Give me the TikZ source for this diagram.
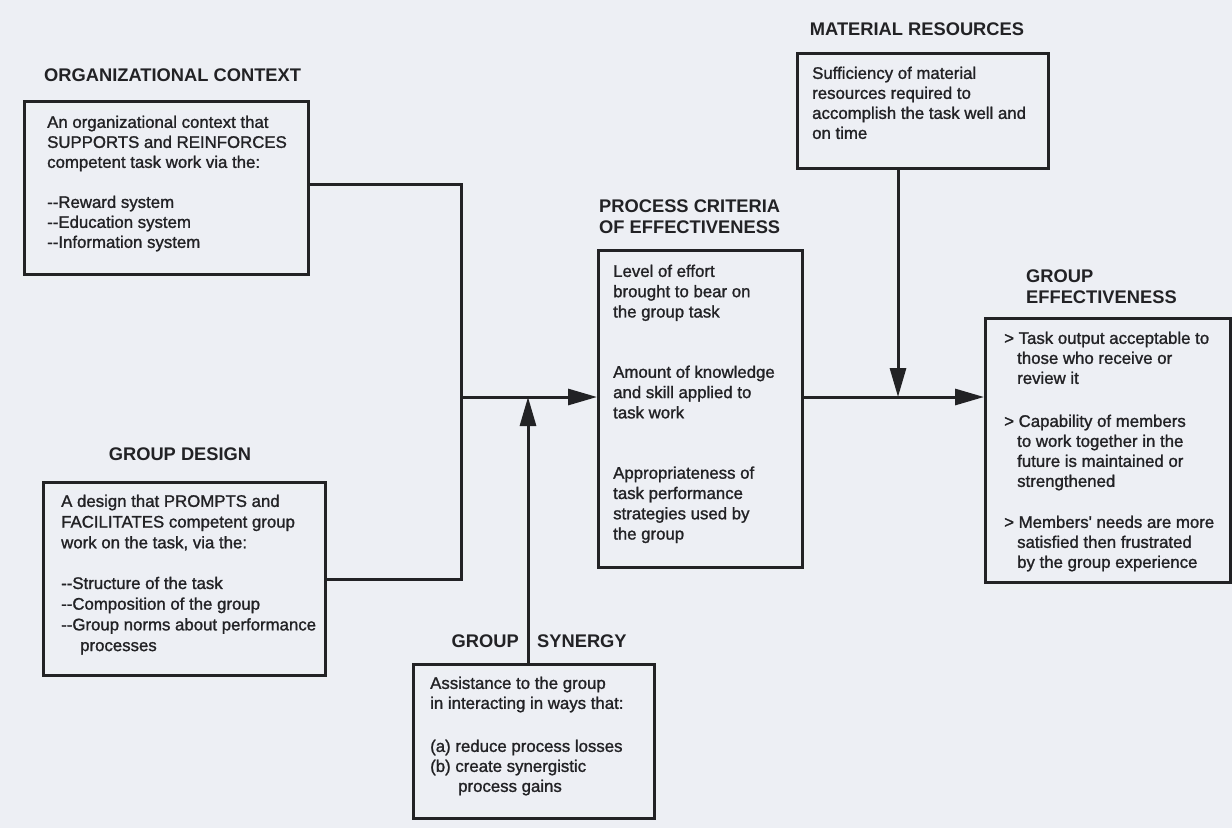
\documentclass[tikz,border=0pt]{standalone}
\usepackage{fontspec}
\setmainfont{Liberation Sans}
\newfontfamily\heavyfont{Liberation Sans}[RawFeature={embolden=1.3}]
\usetikzlibrary{arrows.meta}
\definecolor{ink}{RGB}{34,34,37}
\definecolor{paper}{RGB}{237,239,244}
\newcommand\twodash{-\kern0pt-}
\tikzset{
  box/.style={draw=ink, line width=3pt, anchor=north west, inner sep=0pt},
  head/.style={font=\fontsize{18.3}{21}\selectfont\bfseries, text=ink, align=left, inner sep=0pt},
  body/.style={font=\heavyfont\fontsize{16.8}{#1}\selectfont, text=ink, align=left, anchor=north west, inner sep=0pt},
  body/.default=20,
  link/.style={draw=ink, line width=3pt},
  arr/.style={link, -{Triangle[length=29pt,width=16pt]}}
}

\begin{document}
\begin{tikzpicture}[x=1pt,y=-1pt]
    \fill[paper] (0,0) rectangle (1232,828);
    \useasboundingbox (0,0) rectangle (1232,828);
% The boxes.
    \node[box, minimum width=284pt, minimum height=173pt] (orgbox) at (23,100) {};
    \node[box, minimum width=282pt, minimum height=193pt] (gdbox) at (42,481) {};
    \node[box, minimum width=204pt, minimum height=317pt] (procbox) at (597,249) {};
    \node[box, minimum width=251pt, minimum height=115pt] (matbox) at (796,52) {};
    \node[box, minimum width=245pt, minimum height=264pt] (gebox) at (984,317) {};
    \node[box, minimum width=241pt, minimum height=154pt] (synbox) at (412,663) {};
% Titles above the boxes.
    \node[head, anchor=west] (orghead) at (44,75) {ORGANIZATIONAL CONTEXT};
    \node[head] (gdhead) at (180,454) {GROUP DESIGN};
    \node[head, anchor=west] (prochead) at (599,216.5) {PROCESS CRITERIA\\OF EFFECTIVENESS};
    \node[head] (mathead) at (917,29) {MATERIAL RESOURCES};
    \node[head, anchor=west] (gehead) at (1026,286.5) {GROUP\\EFFECTIVENESS};
    \node[head, anchor=east] (synheadl) at (519,641) {GROUP};
    \node[head, anchor=west] (synheadr) at (537,641) {SYNERGY};
% Texts inside the boxes.
    \node[body] (orgtext) at (47,115.5) {An organizational context that\\
        SUPPORTS and REINFORCES\\competent task work via the:\\[20pt]
        \twodash Reward system\\\twodash Education system\\\twodash Information system};
    \node[body=20.7] (gdtext) at (61,494.5) {A design that PROMPTS and\\
        FACILITATES competent group\\work on the task, via the:\\[20pt]
        \twodash Structure of the task\\\twodash Composition of the group\\
        \twodash Group norms about performance\\\hspace{19pt}processes};
    \node[body=20.3] (proctext) at (613,264.5) {Level of effort\\brought to bear on\\the group task\\[40pt]
        Amount of knowledge\\and skill applied to\\task work\\[40pt]
        Appropriateness of\\task performance\\strategies used by\\the group};
    \node[body] (mattext) at (812,66.5) {Sufficiency of material\\
        resources required to\\accomplish the task well and\\on time};
    \node[body] (getext) at (1004,331.5) {> Task output acceptable to\\
        \hspace{13pt}those who receive or\\\hspace{13pt}review it\\[23pt]
        > Capability of members\\\hspace{13pt}to work together in the\\
        \hspace{13pt}future is maintained or\\\hspace{13pt}strengthened\\[21pt]
        > Members' needs are more\\\hspace{13pt}satisfied then frustrated\\
        \hspace{13pt}by the group experience};
    \node[body] (syntext) at (430,676.5) {Assistance to the group\\
        in interacting in ways that:\\[23pt]
        (a) reduce process losses\\(b) create synergistic\\\hspace{28pt}process gains};
% Junctions of the connectors.
    \coordinate (jleft) at (461,397);
    \coordinate (jmid) at (528,397);
    \coordinate (jright) at (898,397);
% The connectors.
    \draw[link, line join=miter] ([yshift=3.5pt]orgbox.east) -- ([yshift=3.5pt]orgbox.east -| jleft)
        -- (gdbox.east -| jleft) -- (gdbox.east);
    \draw[arr] (jleft) -- (procbox.west |- jleft);
    \draw[arr] (synbox.north -| jmid) -- (jmid);
    \draw[arr] (procbox.east |- jright) -- (gebox.west |- jright);
    \draw[arr] (matbox.south -| jright) -- (jright);
\end{tikzpicture}
\end{document}
